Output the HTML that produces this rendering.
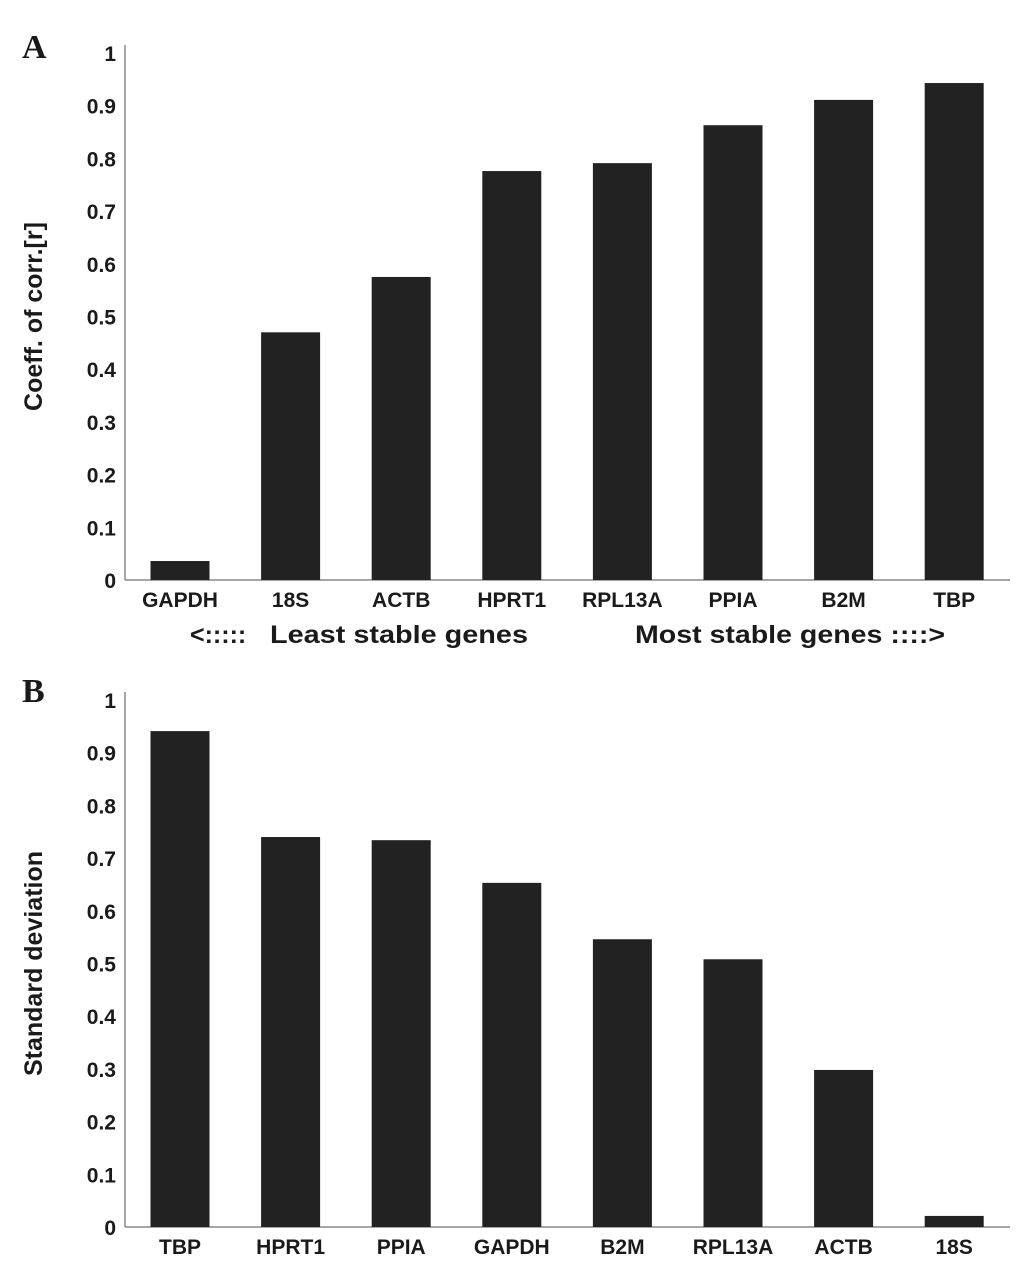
<!DOCTYPE html>
<html><head><meta charset="utf-8"><style>
body{margin:0;background:#fff;}
svg text{font-family:"Liberation Sans",Arial,sans-serif;font-weight:bold;fill:#1a1a1a;}
</style></head><body>
<svg id="chart" width="1033" height="1275" xmlns="http://www.w3.org/2000/svg"></svg>
<script>
const catsA=["GAPDH","18S","ACTB","HPRT1","RPL13A","PPIA","B2M","TBP"];
const valsA=[0.036,0.47,0.575,0.776,0.791,0.863,0.911,0.943];
const catsB=["TBP","HPRT1","PPIA","GAPDH","B2M","RPL13A","ACTB","18S"];
const valsB=[0.941,0.74,0.734,0.653,0.546,0.508,0.298,0.021];
const ticks=[0,0.1,0.2,0.3,0.4,0.5,0.6,0.7,0.8,0.9,1];
const tickLabels=["0","0.1","0.2","0.3","0.4","0.5","0.6","0.7","0.8","0.9","1"];
const NS="http://www.w3.org/2000/svg";
const svg=document.getElementById('chart');
function mk(t,a,txt){const e=document.createElementNS(NS,t);for(const k in a)e.setAttribute(k,a[k]);if(txt!==undefined)e.textContent=txt;svg.appendChild(e);return e;}
function panel(p,cats,vals,y0,letter,title,letterY){
  const x0=125,x1=1010,h=527;
  const ys=v=>y0-v*h;
  const xc=i=>180+i*110.6;
  let e=mk('text',{x:22,y:letterY,'font-size':34,style:'font-family:"Liberation Serif",serif;font-weight:bold'},letter);
  
  
  e=mk('line',{x1:x0,y1:y0-h-8,x2:x0,y2:y0,stroke:'#888','stroke-width':1.5});
  
  
  e=mk('line',{x1:x0,y1:y0,x2:x1,y2:y0,stroke:'#888','stroke-width':1.5});
  
  
  ticks.forEach((t,i)=>{
    const el=mk('text',{x:116,y:ys(t)+8,'font-size':21,'text-anchor':'end'},tickLabels[i]);
    
    
  });
  cats.forEach((c,i)=>{
    const b=mk('rect',{x:xc(i)-29.5,y:ys(vals[i]),width:59,height:vals[i]*h,fill:'#222'});
    
    
    const l=mk('text',{x:xc(i),y:y0+27,'font-size':21,'text-anchor':'middle'},c);
    
    
  });
  const cy=(y0-h/2);
  e=mk('text',{x:0,y:0,'font-size':25,'text-anchor':'middle',transform:`translate(42,${cy}) rotate(-90)`},title);
  
  
}
panel('a',catsA,valsA,580,'A','Coeff. of corr.[r]',58);
panel('b',catsB,valsB,1227,'B','Standard deviation',702);
let e=mk('text',{x:190,y:643,'font-size':25},'<:::::');


e=mk('text',{x:270,y:643,'font-size':25,textLength:258,lengthAdjust:'spacingAndGlyphs'},'Least stable genes');


e=mk('text',{x:635,y:643,'font-size':25,textLength:310,lengthAdjust:'spacingAndGlyphs'},'Most stable genes ::::>');


</script>
</body></html>
